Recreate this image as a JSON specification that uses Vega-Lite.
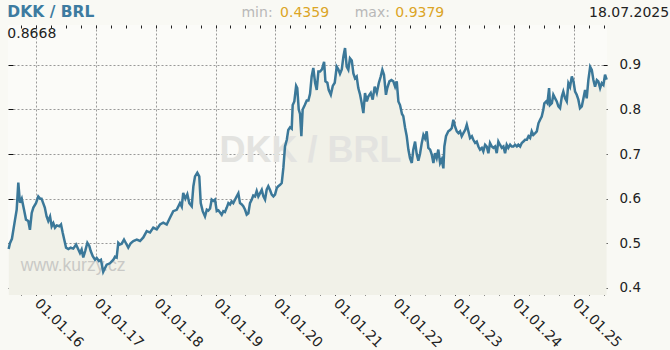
{
  "$schema": "https://vega.github.io/schema/vega-lite/v6.json",
  "width": 599,
  "height": 270,
  "autosize": {"type": "none"},
  "padding": {"left": 8, "top": 25, "right": 63, "bottom": 55},
  "background": "#f9f9f4",
  "config": {"font": "DejaVu Sans", "view": {"fill": "#fbfbf8", "stroke": null}},
  "datasets": {
    "rates": [
      {"date": "2015-07-16", "rate": 0.487}, {"date": "2015-07-24", "rate": 0.500}, {"date": "2015-08-05", "rate": 0.510},
      {"date": "2015-08-24", "rate": 0.553}, {"date": "2015-09-03", "rate": 0.575}, {"date": "2015-09-13", "rate": 0.636},
      {"date": "2015-09-23", "rate": 0.591}, {"date": "2015-10-04", "rate": 0.600}, {"date": "2015-10-18", "rate": 0.575},
      {"date": "2015-10-30", "rate": 0.553}, {"date": "2015-11-13", "rate": 0.550}, {"date": "2015-11-23", "rate": 0.530},
      {"date": "2015-12-04", "rate": 0.568}, {"date": "2015-12-14", "rate": 0.580}, {"date": "2015-12-30", "rate": 0.590},
      {"date": "2016-01-13", "rate": 0.605}, {"date": "2016-01-24", "rate": 0.600}, {"date": "2016-02-02", "rate": 0.600},
      {"date": "2016-02-12", "rate": 0.590}, {"date": "2016-02-22", "rate": 0.580}, {"date": "2016-03-04", "rate": 0.560},
      {"date": "2016-03-14", "rate": 0.550}, {"date": "2016-03-25", "rate": 0.560}, {"date": "2016-04-04", "rate": 0.538},
      {"date": "2016-04-14", "rate": 0.545}, {"date": "2016-04-24", "rate": 0.535}, {"date": "2016-05-05", "rate": 0.540},
      {"date": "2016-05-21", "rate": 0.538}, {"date": "2016-05-31", "rate": 0.542}, {"date": "2016-06-10", "rate": 0.524},
      {"date": "2016-06-20", "rate": 0.508}, {"date": "2016-07-01", "rate": 0.490}, {"date": "2016-07-15", "rate": 0.487},
      {"date": "2016-07-29", "rate": 0.490}, {"date": "2016-08-14", "rate": 0.488}, {"date": "2016-08-31", "rate": 0.497},
      {"date": "2016-09-14", "rate": 0.486}, {"date": "2016-09-24", "rate": 0.478}, {"date": "2016-10-04", "rate": 0.486},
      {"date": "2016-10-14", "rate": 0.468}, {"date": "2016-10-26", "rate": 0.483}, {"date": "2016-11-08", "rate": 0.501},
      {"date": "2016-11-20", "rate": 0.494}, {"date": "2016-11-28", "rate": 0.483}, {"date": "2016-12-11", "rate": 0.471},
      {"date": "2016-12-25", "rate": 0.463}, {"date": "2017-01-04", "rate": 0.467}, {"date": "2017-01-18", "rate": 0.460},
      {"date": "2017-01-30", "rate": 0.463}, {"date": "2017-02-13", "rate": 0.4359}, {"date": "2017-03-06", "rate": 0.452},
      {"date": "2017-03-26", "rate": 0.455}, {"date": "2017-04-16", "rate": 0.463}, {"date": "2017-04-26", "rate": 0.470},
      {"date": "2017-05-06", "rate": 0.468}, {"date": "2017-05-16", "rate": 0.501}, {"date": "2017-05-26", "rate": 0.497},
      {"date": "2017-06-06", "rate": 0.499}, {"date": "2017-06-20", "rate": 0.508}, {"date": "2017-07-02", "rate": 0.500},
      {"date": "2017-07-16", "rate": 0.490}, {"date": "2017-07-31", "rate": 0.500}, {"date": "2017-08-16", "rate": 0.505},
      {"date": "2017-09-06", "rate": 0.508}, {"date": "2017-09-26", "rate": 0.505}, {"date": "2017-10-16", "rate": 0.513},
      {"date": "2017-11-06", "rate": 0.527}, {"date": "2017-11-26", "rate": 0.524}, {"date": "2017-12-16", "rate": 0.535},
      {"date": "2018-01-06", "rate": 0.531}, {"date": "2018-01-26", "rate": 0.542}, {"date": "2018-02-15", "rate": 0.546},
      {"date": "2018-03-08", "rate": 0.542}, {"date": "2018-03-28", "rate": 0.557}, {"date": "2018-04-17", "rate": 0.572},
      {"date": "2018-05-08", "rate": 0.575}, {"date": "2018-05-28", "rate": 0.590}, {"date": "2018-06-08", "rate": 0.582},
      {"date": "2018-06-17", "rate": 0.613}, {"date": "2018-06-30", "rate": 0.600}, {"date": "2018-07-12", "rate": 0.610},
      {"date": "2018-07-24", "rate": 0.590}, {"date": "2018-08-08", "rate": 0.583}, {"date": "2018-08-18", "rate": 0.628},
      {"date": "2018-08-28", "rate": 0.650}, {"date": "2018-09-11", "rate": 0.658}, {"date": "2018-09-23", "rate": 0.650},
      {"date": "2018-10-02", "rate": 0.590}, {"date": "2018-10-14", "rate": 0.572}, {"date": "2018-10-28", "rate": 0.560},
      {"date": "2018-11-08", "rate": 0.575}, {"date": "2018-11-17", "rate": 0.573}, {"date": "2018-11-28", "rate": 0.578},
      {"date": "2018-12-08", "rate": 0.598}, {"date": "2018-12-18", "rate": 0.595}, {"date": "2018-12-28", "rate": 0.598},
      {"date": "2019-01-08", "rate": 0.572}, {"date": "2019-01-18", "rate": 0.574}, {"date": "2019-01-28", "rate": 0.569},
      {"date": "2019-02-07", "rate": 0.564}, {"date": "2019-02-17", "rate": 0.572}, {"date": "2019-02-27", "rate": 0.570},
      {"date": "2019-03-10", "rate": 0.580}, {"date": "2019-03-20", "rate": 0.590}, {"date": "2019-03-30", "rate": 0.587},
      {"date": "2019-04-09", "rate": 0.594}, {"date": "2019-04-19", "rate": 0.590}, {"date": "2019-04-30", "rate": 0.598},
      {"date": "2019-05-10", "rate": 0.605}, {"date": "2019-05-20", "rate": 0.612}, {"date": "2019-05-30", "rate": 0.590},
      {"date": "2019-06-10", "rate": 0.587}, {"date": "2019-06-19", "rate": 0.583}, {"date": "2019-06-30", "rate": 0.575},
      {"date": "2019-07-10", "rate": 0.564}, {"date": "2019-07-20", "rate": 0.567}, {"date": "2019-07-30", "rate": 0.590},
      {"date": "2019-08-10", "rate": 0.598}, {"date": "2019-08-19", "rate": 0.607}, {"date": "2019-08-30", "rate": 0.605},
      {"date": "2019-09-09", "rate": 0.617}, {"date": "2019-09-19", "rate": 0.605}, {"date": "2019-09-29", "rate": 0.612},
      {"date": "2019-10-10", "rate": 0.620}, {"date": "2019-10-20", "rate": 0.605}, {"date": "2019-10-30", "rate": 0.598},
      {"date": "2019-11-09", "rate": 0.620}, {"date": "2019-11-19", "rate": 0.628}, {"date": "2019-11-29", "rate": 0.620},
      {"date": "2019-12-10", "rate": 0.609}, {"date": "2019-12-20", "rate": 0.605}, {"date": "2019-12-30", "rate": 0.609},
      {"date": "2020-01-10", "rate": 0.624}, {"date": "2020-01-19", "rate": 0.628}, {"date": "2020-01-30", "rate": 0.631},
      {"date": "2020-02-09", "rate": 0.635}, {"date": "2020-02-19", "rate": 0.669}, {"date": "2020-02-29", "rate": 0.717},
      {"date": "2020-03-11", "rate": 0.732}, {"date": "2020-03-20", "rate": 0.754}, {"date": "2020-03-31", "rate": 0.760},
      {"date": "2020-04-10", "rate": 0.757}, {"date": "2020-04-16", "rate": 0.810}, {"date": "2020-04-26", "rate": 0.818},
      {"date": "2020-05-07", "rate": 0.853}, {"date": "2020-05-14", "rate": 0.848}, {"date": "2020-05-23", "rate": 0.800},
      {"date": "2020-05-31", "rate": 0.790}, {"date": "2020-06-08", "rate": 0.740}, {"date": "2020-06-16", "rate": 0.800},
      {"date": "2020-06-29", "rate": 0.810}, {"date": "2020-07-11", "rate": 0.820}, {"date": "2020-07-21", "rate": 0.820},
      {"date": "2020-07-31", "rate": 0.835}, {"date": "2020-08-10", "rate": 0.874}, {"date": "2020-08-20", "rate": 0.893},
      {"date": "2020-08-31", "rate": 0.860}, {"date": "2020-09-10", "rate": 0.844}, {"date": "2020-09-20", "rate": 0.885},
      {"date": "2020-09-30", "rate": 0.885}, {"date": "2020-10-12", "rate": 0.890}, {"date": "2020-10-25", "rate": 0.907},
      {"date": "2020-11-02", "rate": 0.863}, {"date": "2020-11-14", "rate": 0.860}, {"date": "2020-11-22", "rate": 0.844},
      {"date": "2020-12-05", "rate": 0.833}, {"date": "2020-12-17", "rate": 0.853}, {"date": "2020-12-29", "rate": 0.860},
      {"date": "2021-01-10", "rate": 0.896}, {"date": "2021-01-20", "rate": 0.890}, {"date": "2021-01-30", "rate": 0.880},
      {"date": "2021-02-10", "rate": 0.890}, {"date": "2021-02-20", "rate": 0.919}, {"date": "2021-03-02", "rate": 0.9379},
      {"date": "2021-03-12", "rate": 0.896}, {"date": "2021-03-22", "rate": 0.889}, {"date": "2021-04-01", "rate": 0.915},
      {"date": "2021-04-12", "rate": 0.910}, {"date": "2021-04-22", "rate": 0.881}, {"date": "2021-05-02", "rate": 0.870},
      {"date": "2021-05-12", "rate": 0.874}, {"date": "2021-05-22", "rate": 0.848}, {"date": "2021-06-02", "rate": 0.833},
      {"date": "2021-06-12", "rate": 0.814}, {"date": "2021-06-22", "rate": 0.792}, {"date": "2021-07-02", "rate": 0.837},
      {"date": "2021-07-13", "rate": 0.818}, {"date": "2021-07-22", "rate": 0.829}, {"date": "2021-08-06", "rate": 0.837},
      {"date": "2021-08-18", "rate": 0.822}, {"date": "2021-08-30", "rate": 0.851}, {"date": "2021-09-12", "rate": 0.837},
      {"date": "2021-09-24", "rate": 0.859}, {"date": "2021-10-06", "rate": 0.874}, {"date": "2021-10-16", "rate": 0.889},
      {"date": "2021-10-26", "rate": 0.878}, {"date": "2021-11-07", "rate": 0.833}, {"date": "2021-11-15", "rate": 0.848},
      {"date": "2021-11-28", "rate": 0.863}, {"date": "2021-12-10", "rate": 0.866}, {"date": "2021-12-22", "rate": 0.863},
      {"date": "2022-01-02", "rate": 0.851}, {"date": "2022-01-12", "rate": 0.863}, {"date": "2022-01-22", "rate": 0.818},
      {"date": "2022-02-01", "rate": 0.810}, {"date": "2022-02-13", "rate": 0.790}, {"date": "2022-02-21", "rate": 0.785},
      {"date": "2022-03-04", "rate": 0.759}, {"date": "2022-03-14", "rate": 0.740}, {"date": "2022-03-24", "rate": 0.710},
      {"date": "2022-04-03", "rate": 0.691}, {"date": "2022-04-14", "rate": 0.680}, {"date": "2022-04-23", "rate": 0.710},
      {"date": "2022-05-04", "rate": 0.728}, {"date": "2022-05-14", "rate": 0.700}, {"date": "2022-05-24", "rate": 0.685},
      {"date": "2022-06-03", "rate": 0.700}, {"date": "2022-06-14", "rate": 0.725}, {"date": "2022-06-24", "rate": 0.743},
      {"date": "2022-07-04", "rate": 0.735}, {"date": "2022-07-14", "rate": 0.751}, {"date": "2022-07-24", "rate": 0.714},
      {"date": "2022-08-04", "rate": 0.710}, {"date": "2022-08-14", "rate": 0.699}, {"date": "2022-08-24", "rate": 0.680},
      {"date": "2022-09-03", "rate": 0.702}, {"date": "2022-09-13", "rate": 0.691}, {"date": "2022-09-23", "rate": 0.710},
      {"date": "2022-10-04", "rate": 0.680}, {"date": "2022-10-14", "rate": 0.688}, {"date": "2022-10-24", "rate": 0.668},
      {"date": "2022-10-30", "rate": 0.717}, {"date": "2022-11-09", "rate": 0.740}, {"date": "2022-11-23", "rate": 0.751},
      {"date": "2022-12-04", "rate": 0.754}, {"date": "2022-12-14", "rate": 0.758}, {"date": "2022-12-24", "rate": 0.777},
      {"date": "2023-01-03", "rate": 0.762}, {"date": "2023-01-14", "rate": 0.751}, {"date": "2023-01-24", "rate": 0.747},
      {"date": "2023-02-03", "rate": 0.751}, {"date": "2023-02-13", "rate": 0.740}, {"date": "2023-02-23", "rate": 0.747},
      {"date": "2023-03-06", "rate": 0.754}, {"date": "2023-03-16", "rate": 0.766}, {"date": "2023-03-26", "rate": 0.751},
      {"date": "2023-04-05", "rate": 0.736}, {"date": "2023-04-16", "rate": 0.740}, {"date": "2023-04-25", "rate": 0.732},
      {"date": "2023-05-06", "rate": 0.725}, {"date": "2023-05-16", "rate": 0.728}, {"date": "2023-05-26", "rate": 0.717},
      {"date": "2023-06-05", "rate": 0.710}, {"date": "2023-06-16", "rate": 0.714}, {"date": "2023-06-25", "rate": 0.706},
      {"date": "2023-07-06", "rate": 0.721}, {"date": "2023-07-16", "rate": 0.717}, {"date": "2023-07-26", "rate": 0.702},
      {"date": "2023-08-05", "rate": 0.725}, {"date": "2023-08-16", "rate": 0.717}, {"date": "2023-08-26", "rate": 0.714},
      {"date": "2023-09-05", "rate": 0.717}, {"date": "2023-09-15", "rate": 0.702}, {"date": "2023-09-25", "rate": 0.728},
      {"date": "2023-10-05", "rate": 0.721}, {"date": "2023-10-16", "rate": 0.714}, {"date": "2023-10-26", "rate": 0.717},
      {"date": "2023-11-05", "rate": 0.702}, {"date": "2023-11-15", "rate": 0.721}, {"date": "2023-11-25", "rate": 0.714},
      {"date": "2023-12-06", "rate": 0.721}, {"date": "2023-12-16", "rate": 0.717}, {"date": "2023-12-26", "rate": 0.717},
      {"date": "2024-01-05", "rate": 0.721}, {"date": "2024-01-16", "rate": 0.717}, {"date": "2024-01-25", "rate": 0.721},
      {"date": "2024-02-05", "rate": 0.717}, {"date": "2024-02-15", "rate": 0.725}, {"date": "2024-02-25", "rate": 0.728},
      {"date": "2024-03-06", "rate": 0.732}, {"date": "2024-03-17", "rate": 0.732}, {"date": "2024-03-27", "rate": 0.740},
      {"date": "2024-04-06", "rate": 0.736}, {"date": "2024-04-16", "rate": 0.751}, {"date": "2024-04-26", "rate": 0.743},
      {"date": "2024-05-07", "rate": 0.747}, {"date": "2024-05-17", "rate": 0.751}, {"date": "2024-05-27", "rate": 0.769},
      {"date": "2024-06-06", "rate": 0.777}, {"date": "2024-06-16", "rate": 0.784}, {"date": "2024-06-26", "rate": 0.800},
      {"date": "2024-07-02", "rate": 0.814}, {"date": "2024-07-13", "rate": 0.818}, {"date": "2024-07-21", "rate": 0.814},
      {"date": "2024-07-31", "rate": 0.848}, {"date": "2024-08-06", "rate": 0.810}, {"date": "2024-08-17", "rate": 0.814},
      {"date": "2024-08-26", "rate": 0.833}, {"date": "2024-09-06", "rate": 0.825}, {"date": "2024-09-16", "rate": 0.818},
      {"date": "2024-09-26", "rate": 0.807}, {"date": "2024-10-06", "rate": 0.803}, {"date": "2024-10-17", "rate": 0.829},
      {"date": "2024-10-26", "rate": 0.840}, {"date": "2024-11-06", "rate": 0.825}, {"date": "2024-11-16", "rate": 0.818},
      {"date": "2024-11-26", "rate": 0.859}, {"date": "2024-12-06", "rate": 0.851}, {"date": "2024-12-17", "rate": 0.874},
      {"date": "2024-12-27", "rate": 0.863}, {"date": "2025-01-06", "rate": 0.840}, {"date": "2025-01-16", "rate": 0.833},
      {"date": "2025-01-26", "rate": 0.822}, {"date": "2025-02-05", "rate": 0.803}, {"date": "2025-02-16", "rate": 0.807},
      {"date": "2025-02-26", "rate": 0.825}, {"date": "2025-03-08", "rate": 0.844}, {"date": "2025-03-18", "rate": 0.825},
      {"date": "2025-03-28", "rate": 0.866}, {"date": "2025-04-08", "rate": 0.896}, {"date": "2025-04-18", "rate": 0.889},
      {"date": "2025-04-28", "rate": 0.866}, {"date": "2025-05-08", "rate": 0.851}, {"date": "2025-05-19", "rate": 0.866},
      {"date": "2025-05-28", "rate": 0.863}, {"date": "2025-06-08", "rate": 0.848}, {"date": "2025-06-18", "rate": 0.859},
      {"date": "2025-06-28", "rate": 0.855}, {"date": "2025-07-08", "rate": 0.878}, {"date": "2025-07-18", "rate": 0.8668}
    ]
  },
  "layer": [
    {
      "data": {"name": "rates"},
      "mark": {"type": "area", "color": "#f1f1e8", "opacity": 1},
      "encoding": {
        "x": {
          "field": "date", "type": "temporal",
          "scale": {"domain": ["2015-07-12", "2025-07-20"]},
          "axis": {
            "orient": "bottom", "title": null, "tickCount": {"interval": "year", "step": 1},
            "format": "%d.%m.%y", "labelAngle": 45, "labelAlign": "left", "labelBaseline": "middle",
            "labelFontSize": 14, "labelColor": "#222222", "labelPadding": 6, "labelOverlap": false, "labelFlush": false,
            "grid": true, "gridDash": [2, 2], "gridColor": "#999999", "gridWidth": 1,
            "domain": false, "ticks": true, "tickSize": 6, "tickColor": "#222222", "offset": -6
          }
        },
        "y": {
          "field": "rate", "type": "quantitative",
          "scale": {"domain": [0.3839, 0.9895], "zero": false, "nice": false},
          "axis": {
            "orient": "right", "title": null, "values": [0.4, 0.5, 0.6, 0.7, 0.8, 0.9], "format": ".1f",
            "labelFontSize": 13.5, "labelColor": "#222222", "labelPadding": 12,
            "tickSize": 4, "tickColor": "#111111", "offset": -4,
            "grid": true, "gridDash": [2, 2], "gridColor": "#999999", "gridWidth": 1, "domain": false
          }
        },
        "y2": {"datum": 0.3839}
      }
    },
    {
      "data": {"values": [{"label": "DKK / BRL"}]},
      "mark": {"type": "text", "fontSize": 36, "fontWeight": "bold", "font": "Liberation Sans", "color": "#e3e3e0", "align": "center", "baseline": "middle"},
      "encoding": {
        "x": {"datum": {"year": 2020, "month": 8, "date": 3}, "type": "temporal", "axis": {"orient": "top", "title": null, "tickCount": {"interval": "month", "step": 3}, "labels": false, "grid": false, "domain": false, "tickSize": 3, "tickColor": "#222222", "offset": -3}},
        "y": {"datum": 0.7069, "type": "quantitative", "axis": null},
        "text": {"field": "label"}
      }
    },
    {
      "data": {"values": [{"label": "www.kurzy.cz"}]},
      "mark": {"type": "text", "fontSize": 17.5, "font": "Liberation Sans", "color": "#c9c9c6", "align": "left", "baseline": "alphabetic"},
      "encoding": {
        "x": {"datum": {"year": 2015, "month": 9, "date": 28}, "type": "temporal", "axis": null},
        "y": {"datum": 0.4384, "type": "quantitative", "axis": null},
        "text": {"field": "label"}
      }
    },
    {
      "data": {"name": "rates"},
      "mark": {"type": "line", "color": "#3b7899", "strokeWidth": 2.5},
      "encoding": {
        "x": {
          "field": "date", "type": "temporal",
          "axis": {"orient": "bottom", "title": null, "tickCount": {"interval": "month", "step": 3}, "labels": false, "grid": false, "domain": false, "tickSize": 3, "tickColor": "#222222", "offset": -3}
        },
        "y": {
          "field": "rate", "type": "quantitative",
          "axis": {"orient": "left", "title": null, "values": [0.4, 0.5, 0.6, 0.7, 0.8, 0.9], "labels": false, "grid": false, "domain": false, "tickSize": 5, "tickColor": "#111111", "offset": -5}
        }
      }
    },
    {
      "data": {"values": [{"label": "DKK / BRL"}]},
      "mark": {"type": "text", "fontSize": 15.5, "fontWeight": "bold", "color": "#3d7ba0", "align": "left", "baseline": "alphabetic"},
      "encoding": {
        "x": {"datum": {"year": 2015, "month": 7, "date": 8}, "type": "temporal", "axis": null},
        "y": {"datum": 1.0082, "type": "quantitative", "axis": null},
        "text": {"field": "label"}
      }
    },
    {
      "data": {"values": [{"label": "0.8668"}]},
      "mark": {"type": "text", "fontSize": 14, "color": "#222222", "align": "left", "baseline": "alphabetic"},
      "encoding": {
        "x": {"datum": {"year": 2015, "month": 7, "date": 8}, "type": "temporal", "axis": null},
        "y": {"datum": 0.9597, "type": "quantitative", "axis": null},
        "text": {"field": "label"}
      }
    },
    {
      "data": {"values": [{"label": "min:"}]},
      "mark": {"type": "text", "fontSize": 14, "color": "#b8b8b8", "align": "left", "baseline": "alphabetic"},
      "encoding": {
        "x": {"datum": {"year": 2019, "month": 6, "date": 8}, "type": "temporal", "axis": null},
        "y": {"datum": 1.0075, "type": "quantitative", "axis": null},
        "text": {"field": "label"}
      }
    },
    {
      "data": {"values": [{"label": "0.4359"}]},
      "mark": {"type": "text", "fontSize": 14, "color": "#dca526", "align": "left", "baseline": "alphabetic"},
      "encoding": {
        "x": {"datum": {"year": 2020, "month": 1, "date": 30}, "type": "temporal", "axis": null},
        "y": {"datum": 1.0075, "type": "quantitative", "axis": null},
        "text": {"field": "label"}
      }
    },
    {
      "data": {"values": [{"label": "max:"}]},
      "mark": {"type": "text", "fontSize": 14, "color": "#b8b8b8", "align": "left", "baseline": "alphabetic"},
      "encoding": {
        "x": {"datum": {"year": 2021, "month": 4, "date": 30}, "type": "temporal", "axis": null},
        "y": {"datum": 1.0075, "type": "quantitative", "axis": null},
        "text": {"field": "label"}
      }
    },
    {
      "data": {"values": [{"label": "0.9379"}]},
      "mark": {"type": "text", "fontSize": 14, "color": "#dca526", "align": "left", "baseline": "alphabetic"},
      "encoding": {
        "x": {"datum": {"year": 2022, "month": 1, "date": 3}, "type": "temporal", "axis": null},
        "y": {"datum": 1.0075, "type": "quantitative", "axis": null},
        "text": {"field": "label"}
      }
    },
    {
      "data": {"values": [{"label": "18.07.2025"}]},
      "mark": {"type": "text", "fontSize": 14, "color": "#222222", "align": "right", "baseline": "alphabetic"},
      "encoding": {
        "x": {"datum": {"year": 2026, "month": 8, "date": 4}, "type": "temporal", "axis": null},
        "y": {"datum": 1.0075, "type": "quantitative", "axis": null},
        "text": {"field": "label"}
      }
    }
  ],
  "resolve": {"axis": {"x": "independent", "y": "independent"}}
}
